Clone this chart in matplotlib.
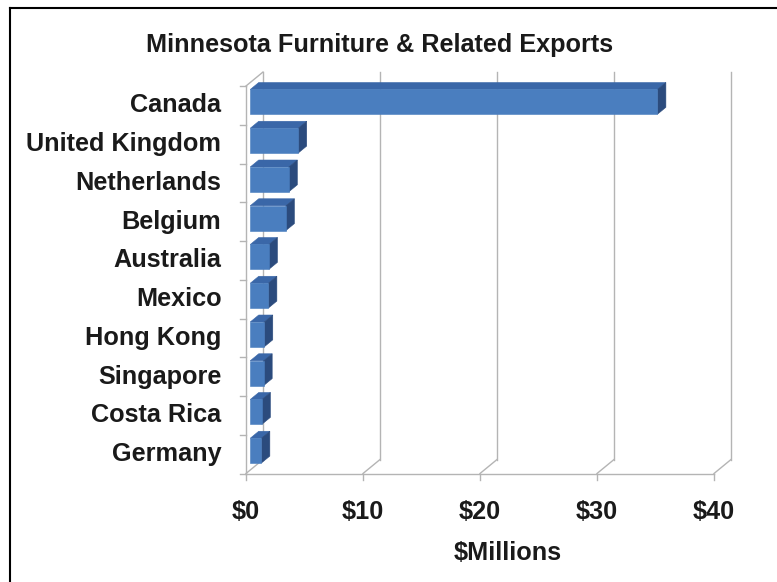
import matplotlib
matplotlib.use('Agg')
import matplotlib.pyplot as plt
from matplotlib.patches import Polygon
from matplotlib.lines import Line2D

# export value by country, $ millions (top to bottom as listed)
countries = ['Canada', 'United Kingdom', 'Netherlands', 'Belgium', 'Australia',
             'Mexico', 'Hong Kong', 'Singapore', 'Costa Rica', 'Germany']
values = [34.8, 4.1, 3.3, 3.05, 1.6, 1.55, 1.2, 1.15, 1.0, 0.95]
xticks = [0, 10, 20, 30, 40]
xticklabels = ['$0', '$10', '$20', '$30', '$40']

W, H = 777, 582
plt.rcParams['font.family'] = ['Liberation Sans', 'DejaVu Sans']
fig = plt.figure(figsize=(W/100, H/100), dpi=100)
fs = 18.2

# plot area in pixels (front plane)
x0, x1 = 246, 714
ytop, ybot = 86, 473.5
ax = fig.add_axes([x0/W, (H-ybot)/H, (x1-x0)/W, (ybot-ytop)/H])
ax.set_xlim(0, 40)
n = len(countries)
ax.set_ylim(-0.5, n-0.5)
ax.axis('off')

# oblique depth offset, data units
DX, DY = 1.45, 0.36
grid = '#b4b4b4'
lw = 1.0

def line(xs, ys, **kw):
    ax.add_line(Line2D(xs, ys, color=grid, lw=lw, clip_on=False, **kw))

lo, hi = -0.5, n-0.5
# back gridlines and floor diagonals
for t in xticks:
    line([t+DX, t+DX], [lo+DY, hi+DY])
    line([t, t+DX], [lo, lo+DY])
    line([t, t], [lo, lo-0.18])
# front floor edge and left wall
line([0, 40], [lo, lo])
line([0, 0], [lo, hi])
line([0, DX], [hi, hi+DY])
for k in range(n+1):
    line([0, -0.5], [lo+k, lo+k])

front_c = '#4a7ebf'
top_c = '#3a67a8'
side_c = '#2b4b7d'
hh = 0.32
ax1, ay1 = 0.25*DX, 0.25*DY
ax2, ay2 = 0.75*DX, 0.75*DY
for i, (c, v) in enumerate(zip(countries, values)):
    yc = n-1-i
    yb, yt = yc-hh, yc+hh
    front = [(ax1, yb+ay1), (ax1+v, yb+ay1), (ax1+v, yt+ay1), (ax1, yt+ay1)]
    top = [(ax1, yt+ay1), (ax1+v, yt+ay1), (ax2+v, yt+ay2), (ax2, yt+ay2)]
    side = [(ax1+v, yb+ay1), (ax2+v, yb+ay2), (ax2+v, yt+ay2), (ax1+v, yt+ay1)]
    for pts, col in [(top, top_c), (side, side_c), (front, front_c)]:
        ax.add_patch(Polygon(pts, closed=True, fc=col, ec=col, lw=0.4, clip_on=False, zorder=3))
    ax.text(-2.1, yc, c, ha='right', va='center', fontsize=fs,
            fontweight='bold', color='#1a1a1a', clip_on=False)

for t, lab in zip(xticks, xticklabels):
    ax.text(t, lo-1.0, lab, ha='center', va='center', fontsize=fs,
            fontweight='bold', color='#1a1a1a', clip_on=False)

fig.text(508/W, 1-553/H, '$Millions', ha='center', va='center', fontsize=fs,
         fontweight='bold', color='#1a1a1a')
fig.text(380/W, 1-45/H, 'Minnesota Furniture & Related Exports', ha='center',
         va='center', fontsize=fs, fontweight='bold', color='#1a1a1a')

# chart border (left and top edges)
bx, by = 10/W, 1-8/H
fig.add_artist(Line2D([bx, bx], [0, by], color='black', lw=1.5, transform=fig.transFigure))
fig.add_artist(Line2D([bx, 1], [by, by], color='black', lw=1.5, transform=fig.transFigure))

fig.savefig('out.png', dpi=100)
